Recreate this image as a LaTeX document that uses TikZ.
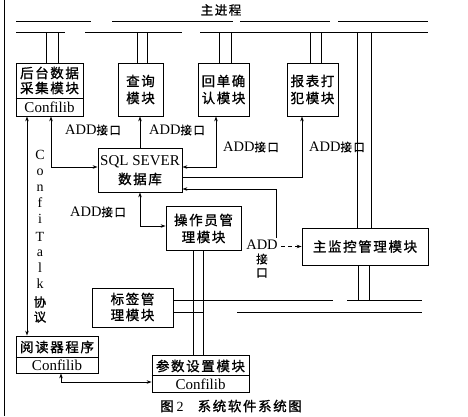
\documentclass[tikz,border=0pt]{standalone}
\usepackage{fontspec}
\setmainfont{Liberation Serif}
\newfontfamily\cjk[LetterSpace=12,FakeBold=1.2]{Noto Sans CJK SC}
\usetikzlibrary{arrows.meta,calc}
\newcommand{\addlab}{{\fontsize{14.5}{16}\selectfont ADD}{\cjk\fontsize{11.5}{14}\selectfont 接口}}
\begin{document}
\begin{tikzpicture}[x=1pt,y=-1pt,
  ln/.style={line width=0.8pt},
  box/.style={draw,line width=0.8pt,rectangle,inner sep=0pt},
  cj/.style={font=\cjk\fontsize{13.5}{16}\selectfont,inner sep=0pt},
  lat/.style={font=\fontsize{15}{17}\selectfont,inner sep=0pt},
  lbl/.style={inner sep=0pt},
  arr/.style={line width=0.8pt,-{Stealth[length=5pt,width=3.5pt]}},
  arrb/.style={line width=0.8pt,{Stealth[length=5pt,width=3.5pt]}-{Stealth[length=5pt,width=3.5pt]}},
]
\useasboundingbox (0,0) rectangle (468,416);
% page edge
\draw[ln] (4,0) -- (4,416);
% main process bus
\node[cj,font=\cjk\fontsize{12.5}{14}\selectfont] (main) at (221,10) {主进程};
\coordinate (busA) at (0,21);
\coordinate (busB) at (0,32);
\coordinate (busC) at (0,300);
\draw[ln] (16,21) -- (91,21) (112,21) -- (233,21) (240,21) -- (330,21) (338,21) -- (428,21);
\draw[ln] (16,32) -- (65,32) (85,32) -- (182,32) (200,32) -- (428,32);
% boxes
\node[box,minimum width=67pt,minimum height=53pt] (hou) at (49.5,89.5) {};
\node[box,minimum width=45pt,minimum height=53pt] (cx) at (140.5,89.5) {};
\node[box,minimum width=51pt,minimum height=53pt] (hd) at (223.5,89.5) {};
\node[box,minimum width=51pt,minimum height=53pt] (bb) at (312.5,89.5) {};
\node[box,minimum width=84pt,minimum height=44pt] (sql) at (140,170) {};
\node[box,minimum width=75pt,minimum height=44pt] (czy) at (203.5,228) {};
\node[box,minimum width=126pt,minimum height=37pt] (zjk) at (365,246.5) {};
\node[box,minimum width=81pt,minimum height=39pt] (bq) at (132.5,308) {};
\node[box,minimum width=82pt,minimum height=37pt] (ydq) at (57,354.5) {};
\node[box,minimum width=97pt,minimum height=37pt] (cs) at (200.5,374) {};
% separators
\draw[ln] (hou.west |- 0,98) -- (hou.east |- 0,98);
\draw[ln] (ydq.west |- 0,357) -- (ydq.east |- 0,357);
\draw[ln] (cs.west |- 0,375) -- (cs.east |- 0,375);
% box texts
\node[cj] (t1) at (49.5,73) {后台数据};
\node[cj] (t2) at (49.5,88) {采集模块};
\node[lat] (t3) at (49.5,107) {Confilib};
\node[cj] (t4) at (140.5,81) {查询};
\node[cj] (t5) at (140.5,98) {模块};
\node[cj] (t6) at (223.5,81) {回单确};
\node[cj] (t7) at (223.5,98) {认模块};
\node[cj] (t8) at (312.5,81) {报表打};
\node[cj] (t9) at (312.5,98) {犯模块};
\node[lat] (t10) at (140,162) {SQL SEVER};
\node[cj] (t11) at (140,179) {数据库};
\node[cj] (t12) at (203.5,220) {操作员管};
\node[cj] (t13) at (203.5,237) {理模块};
\node[cj] (t14) at (365,246.5) {主监控管理模块};
\node[cj] (t15) at (132.5,299) {标签管};
\node[cj] (t16) at (132.5,315) {理模块};
\node[cj] (t17) at (57,347) {阅读器程序};
\node[lat] (t18) at (57,365) {Confilib};
\node[cj] (t19) at (200.5,366) {参数设置模块};
\node[lat] (t20) at (200.5,384) {Confilib};
% bus drops
\foreach \n/\a/\b in {hou/-3.5/8.5, cx/-3.5/6.5, hd/-4.5/7.5, bb/-2.5/8.5}{
  \draw[ln] ([xshift=\a pt]\n.north) -- ([xshift=\a pt]\n.north |- busB);
  \draw[ln] ([xshift=\b pt]\n.north) -- ([xshift=\b pt]\n.north |- busB);
}
\draw[ln] ([xshift=-8pt]zjk.north) -- ([xshift=-8pt]zjk.north |- busB);
\draw[ln] ([xshift=6pt]zjk.north) -- ([xshift=6pt]zjk.north |- busB);
\draw[ln] ([xshift=-7pt]zjk.south) -- ([xshift=-7pt]zjk.south |- busC);
\draw[ln] ([xshift=4pt]zjk.south) -- ([xshift=4pt]zjk.south |- busC);
% lower bus
\draw[ln] (bq.east |- 0,300) -- (333,300) (347,300) -- (422,300);
\draw[ln] (bq.east |- 0,312) -- (203,312) (237,312) -- (422,312);
\draw[ln] ([xshift=-10.5pt]czy.south) -- ([xshift=-10.5pt]czy.south |- cs.north);
\draw[ln] ([xshift=-0.5pt]czy.south) -- ([xshift=-0.5pt]czy.south |- cs.north);
% connectors
\draw[arrb] ([xshift=-22.5pt]hou.south) -- ([xshift=-22.5pt]hou.south |- ydq.north);
\draw[arrb] ([xshift=1.5pt]hou.south) |- ([yshift=3pt]sql.west);
\draw[arr] (sql.north) -- (sql.north |- cx.south);
\draw[arrb] ([yshift=3pt]sql.east) -| ([xshift=-7.5pt]hd.south);
\draw[arr] ([yshift=-7pt]sql.east) -| ([xshift=-10.5pt]bb.south);
\coordinate (zc) at (276,238);
\coordinate (zd) at (281,246.5);
\draw[ln,{Stealth[length=5pt,width=3.5pt]}-] ([yshift=-19pt]sql.east) -| (zc);
\draw[arr,dash pattern=on 4pt off 3pt] (zd) -- (zjk.west);
\draw[arrb] (sql.south) |- ([yshift=2pt]czy.west);
\draw[arrb] ([xshift=4pt]ydq.south) |- ([yshift=-8pt]cs.west);
% labels
\node[lbl] (a1) at (93,130) {\addlab};
\node[lbl] (a2) at (177,130) {\addlab};
\node[lbl] (a3) at (251,147) {\addlab};
\node[lbl] (a4) at (337,147) {\addlab};
\node[lbl] (a5) at (98,212) {\addlab};
\node[lbl] (a6) at (262,245) {\fontsize{14.5}{16}\selectfont ADD};
\node[cj,font=\cjk\fontsize{11.5}{14}\selectfont] (a7) at (262,259) {接};
\node[cj,font=\cjk\fontsize{11.5}{14}\selectfont] (a8) at (262,273) {口};
% ConfiTalk protocol label
\foreach \ch/\yy in {C/155,o/172,n/188,f/203,i/219,T/237,a/253,l/268,k/284}{
  \node[lat,font=\fontsize{14}{16}\selectfont] (ct\yy) at (40,\yy) {\ch};
}
\node[cj,font=\cjk\fontsize{12.5}{14}\selectfont] (xie) at (40,302) {协};
\node[cj,font=\cjk\fontsize{12.5}{14}\selectfont] (yi) at (40,317) {议};
% caption
\node[cj] (cap) at (231,406) {图\hspace{3pt}{\rmfamily\fontsize{14}{16}\selectfont 2}\hspace{14pt}系统软件系统图};
\end{tikzpicture}
\end{document}
